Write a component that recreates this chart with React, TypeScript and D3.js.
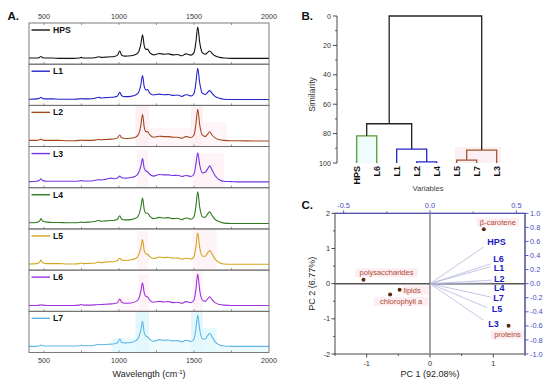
import React from "react";
import * as d3 from "d3";

// ---------- Panel A data ----------
const WN = [400, 450, 470, 480, 492, 520, 560, 600, 650, 700,
  735, 748, 760, 800, 840, 865, 880, 910, 950, 970,
  990, 1005, 1018, 1040, 1080, 1110, 1130, 1145, 1157, 1168,
  1180, 1190, 1205, 1230, 1270, 1300, 1330, 1360, 1390, 1420,
  1445, 1460, 1480, 1500, 1512, 1525, 1538, 1555, 1575, 1590,
  1605, 1620, 1640, 1670, 1700, 1750, 1800, 1900, 2000];

const HPS = [0.03, 0.03, 0.05, 0.08, 0.04, 0.03, 0.03, 0.02, 0.02, 0.02,
  0.03, 0.05, 0.03, 0.03, 0.04, 0.07, 0.05, 0.06, 0.07, 0.08,
  0.12, 0.25, 0.12, 0.09, 0.10, 0.14, 0.22, 0.45, 0.76, 0.42,
  0.30, 0.31, 0.20, 0.13, 0.17, 0.15, 0.16, 0.13, 0.14, 0.10,
  0.16, 0.15, 0.12, 0.20, 0.50, 1.0, 0.52, 0.20, 0.15, 0.20,
  0.25, 0.18, 0.10, 0.05, 0.03, 0.02, 0.02, 0.02, 0.02];
const L1 = [0.03, 0.04, 0.06, 0.09, 0.05, 0.04, 0.04, 0.03, 0.03, 0.03,
  0.04, 0.05, 0.04, 0.04, 0.06, 0.09, 0.07, 0.08, 0.09, 0.10,
  0.13, 0.25, 0.14, 0.11, 0.12, 0.16, 0.24, 0.46, 0.77, 0.43,
  0.32, 0.33, 0.22, 0.16, 0.19, 0.17, 0.18, 0.15, 0.16, 0.12,
  0.17, 0.16, 0.13, 0.21, 0.52, 1.0, 0.54, 0.22, 0.18, 0.24,
  0.30, 0.22, 0.12, 0.06, 0.03, 0.02, 0.02, 0.02, 0.02];
const L2 = [0.03, 0.03, 0.05, 0.07, 0.04, 0.03, 0.03, 0.03, 0.02, 0.02,
  0.03, 0.04, 0.03, 0.03, 0.04, 0.06, 0.05, 0.06, 0.07, 0.08,
  0.11, 0.20, 0.11, 0.09, 0.10, 0.13, 0.22, 0.48, 0.85, 0.45,
  0.30, 0.31, 0.20, 0.13, 0.16, 0.15, 0.15, 0.13, 0.13, 0.10,
  0.15, 0.14, 0.12, 0.20, 0.52, 1.0, 0.52, 0.20, 0.15, 0.22,
  0.30, 0.20, 0.11, 0.05, 0.03, 0.02, 0.02, 0.01, 0.01];
const L3 = [0.03, 0.04, 0.07, 0.12, 0.06, 0.04, 0.04, 0.04, 0.04, 0.04,
  0.05, 0.06, 0.05, 0.05, 0.07, 0.09, 0.08, 0.10, 0.14, 0.12,
  0.14, 0.20, 0.15, 0.14, 0.16, 0.20, 0.30, 0.50, 0.75, 0.45,
  0.36, 0.34, 0.26, 0.20, 0.25, 0.24, 0.24, 0.22, 0.23, 0.19,
  0.22, 0.21, 0.19, 0.27, 0.55, 0.93, 0.55, 0.30, 0.32, 0.42,
  0.52, 0.40, 0.22, 0.08, 0.04, 0.03, 0.02, 0.02, 0.02];
const L4 = [0.03, 0.04, 0.08, 0.16, 0.08, 0.05, 0.04, 0.04, 0.03, 0.03,
  0.04, 0.05, 0.04, 0.05, 0.07, 0.10, 0.08, 0.09, 0.10, 0.11,
  0.14, 0.25, 0.14, 0.12, 0.13, 0.17, 0.26, 0.50, 0.80, 0.45,
  0.33, 0.33, 0.24, 0.16, 0.20, 0.18, 0.19, 0.16, 0.17, 0.13,
  0.18, 0.17, 0.14, 0.22, 0.52, 1.0, 0.52, 0.22, 0.20, 0.30,
  0.37, 0.26, 0.14, 0.06, 0.02, 0.01, 0.01, 0.01, 0.01];
const L5 = [0.03, 0.04, 0.08, 0.15, 0.07, 0.04, 0.04, 0.04, 0.03, 0.03,
  0.04, 0.06, 0.04, 0.05, 0.06, 0.09, 0.07, 0.09, 0.10, 0.11,
  0.14, 0.21, 0.15, 0.14, 0.16, 0.20, 0.30, 0.52, 0.79, 0.45,
  0.34, 0.33, 0.26, 0.20, 0.25, 0.23, 0.24, 0.21, 0.22, 0.18,
  0.21, 0.20, 0.18, 0.26, 0.55, 1.0, 0.55, 0.28, 0.27, 0.37,
  0.45, 0.34, 0.18, 0.07, 0.03, 0.02, 0.02, 0.02, 0.02];
const L6 = [0.02, 0.02, 0.03, 0.04, 0.03, 0.02, 0.02, 0.02, 0.02, 0.02,
  0.03, 0.05, 0.03, 0.03, 0.04, 0.05, 0.05, 0.06, 0.07, 0.08,
  0.11, 0.22, 0.12, 0.09, 0.10, 0.14, 0.22, 0.45, 0.73, 0.42,
  0.30, 0.29, 0.19, 0.12, 0.15, 0.13, 0.14, 0.11, 0.12, 0.09,
  0.14, 0.13, 0.11, 0.19, 0.50, 1.0, 0.50, 0.19, 0.15, 0.22,
  0.29, 0.20, 0.11, 0.05, 0.03, 0.02, 0.02, 0.02, 0.02];
const L7 = [0.03, 0.03, 0.05, 0.07, 0.05, 0.04, 0.04, 0.04, 0.04, 0.04,
  0.05, 0.06, 0.05, 0.05, 0.07, 0.09, 0.08, 0.09, 0.10, 0.11,
  0.14, 0.26, 0.15, 0.14, 0.15, 0.20, 0.30, 0.52, 0.81, 0.46,
  0.35, 0.33, 0.25, 0.19, 0.24, 0.22, 0.23, 0.20, 0.21, 0.17,
  0.22, 0.21, 0.18, 0.26, 0.55, 1.0, 0.55, 0.27, 0.26, 0.36,
  0.44, 0.33, 0.18, 0.07, 0.04, 0.03, 0.03, 0.03, 0.03];

const SPEC_NAMES = ["HPS", "L1", "L2", "L3", "L4", "L5", "L6", "L7"];
const SPEC_VALUES = [HPS, L1, L2, L3, L4, L5, L6, L7];
const SPEC_COLORS = ["#111111", "#2323c9", "#a2481f", "#7434e6", "#2f7a1e", "#d3a51f", "#a133dc", "#5db6e6"];
const A_LABEL_TICKS = [500, 1000, 1500, 2000];
const A_MINOR_TICKS = [500, 750, 1000, 1250, 1500, 1750];

// light highlight boxes behind peaks: [panel, wn0, wn1, frac0, frac1, color]
const A_HIGHLIGHTS: [number, number, number, number, number, string][] = [
  [2, 1110, 1200, 0, 1, "#fdf0f5"], [2, 1480, 1560, 0, 1, "#fdf0f5"], [2, 1200, 1480, 0, 0.45, "#fef5f8"], [2, 1560, 1720, 0, 0.6, "#fef5f8"],
  [3, 1120, 1195, 0, 0.9, "#fef4f8"], [3, 1490, 1700, 0, 0.85, "#fef4f8"],
  [5, 1120, 1195, 0, 0.95, "#fef3f6"], [5, 1490, 1650, 0, 1, "#fef3f6"],
  [6, 1130, 1200, 0, 0.9, "#fef3f8"], [6, 1490, 1560, 0, 1, "#fef3f8"], [6, 980, 1110, 0, 0.35, "#fef6f9"],
  [7, 950, 1110, 0, 0.35, "#e6f9fc"], [7, 1110, 1200, 0, 1, "#e3f8fc"], [7, 1480, 1560, 0, 1, "#e3f8fc"],
  [7, 1560, 1650, 0, 0.6, "#e6f9fc"], [7, 1650, 2000, 0, 0.15, "#ecfafd"], [7, 1200, 1480, 0, 0.3, "#eefbfd"],
];

// ---------- Panel B data ----------
const LEAVES = ["HPS", "L6", "L1", "L2", "L4", "L5", "L7", "L3"];
const MERGE_A = ["HPS", "L2", "L1", "m0", "L5", "m4", "m3"];
const MERGE_B = ["L6", "L4", "m1", "m2", "L7", "L3", "m5"];
const MERGE_H = [81.5, 99.3, 90.5, 73.3, 98.0, 91.2, 0];
const MERGE_COLORS = ["#5e9c2e", "#2424c8", "#2424c8", "#222222", "#a3532e", "#a3532e", "#222222"];
const SIM_TICKS = [0, 20, 40, 60, 80, 100];
const SIM_MINOR = [10, 30, 50, 70, 90];

// ---------- Panel C data ----------
const SCORE_NAMES = ["β-carotene", "polysaccharides", "lipids", "chlorophyll a", "proteins"];
const SCORE_PC1 = [0.85, -1.05, -0.48, -0.63, 1.24];
const SCORE_PC2 = [1.55, 0.11, -0.17, -0.31, -1.2];
const LOAD_NAMES = ["HPS", "L6", "L1", "L2", "L4", "L7", "L5", "L3"];
const LOAD_X = [0.31, 0.35, 0.35, 0.36, 0.36, 0.35, 0.33, 0.31];
const LOAD_Y = [0.52, 0.28, 0.24, 0.05, 0.01, -0.19, -0.34, -0.52];
const PC1_TICKS = [-1, 0, 1];
const PC1_MINOR = [-1.5, -0.5, 0.5, 1.5];
const PC2_TICKS = [2, 1, 0, -1, -2];
const PC2_MINOR = [1.5, 0.5, -0.5, -1.5];
const TOP_TICKS = [-0.5, 0, 0.5];
const TOP_MINOR = [-0.25, 0.25];
const RIGHT_TICKS = [1.0, 0.8, 0.6, 0.4, 0.2, 0.0, -0.2, -0.4, -0.6, -0.8, -1.0];

// label layout (styling)
const SCORE_LABEL_DX = [14, 23, 4, 11, -1];
const SCORE_LABEL_DY = [-4.5, -4.5, 3, 9.5, 11.5];
const SCORE_LABEL_ANCHOR = ["middle", "middle", "start", "middle", "middle"];
const LOAD_LABEL_DX = [13, 8, 8.5, 7, 7, 8, 10, 10];
const LOAD_LABEL_DY = [-2.5, -2, 4, 2, 8.5, 4, 4.5, 6.5];

const FONT = "'Liberation Sans', Arial, Helvetica, sans-serif";

const fmtHyphen = (v: number, digits: number) => {
  const s = Math.abs(v) < 1e-9 ? (0).toFixed(digits) : v.toFixed(digits);
  return s;
};

export default function App() {
  // ---------- Panel A ----------
  const xA = d3.scaleLinear().domain([400, 2000]).range([29, 269]);
  const aTop = 23;
  const aBottom = 352.5;
  const ph = (aBottom - aTop) / 8;

  const panelA = SPEC_NAMES.map((name, i) => {
    const top = aTop + i * ph;
    const yS = d3.scaleLinear().domain([0, 1]).range([top + 36, top + 4]);
    const path = d3
      .line<number>()
      .x((_, j) => xA(WN[j]))
      .y((v) => yS(v))
      .curve(d3.curveMonotoneX)(SPEC_VALUES[i]);
    return { name, i, top, yS, path };
  });

  // ---------- Panel B ----------
  const xB = d3.scalePoint<string>().domain(LEAVES).range([356.7, 496.7]);
  const yB = d3.scaleLinear().domain([0, 100]).range([16, 163]);
  const nodes: Record<string, { x: number; h: number }> = {};
  LEAVES.forEach((l) => (nodes[l] = { x: xB(l) as number, h: 100 }));
  const dendroPaths = MERGE_A.map((a, i) => {
    const na = nodes[a];
    const nb = nodes[MERGE_B[i]];
    const h = MERGE_H[i];
    nodes["m" + i] = { x: (na.x + nb.x) / 2, h };
    const p = d3.path();
    p.moveTo(na.x, yB(na.h));
    p.lineTo(na.x, yB(h));
    p.lineTo(nb.x, yB(h));
    p.lineTo(nb.x, yB(nb.h));
    return { d: p.toString(), color: MERGE_COLORS[i] };
  });

  // ---------- Panel C ----------
  const cl = 335, cr = 525, ct = 213.3, cb = 354;
  const xC = d3.scaleLinear().domain([-1.5, 1.5]).range([cl, cr]);
  const yC = d3.scaleLinear().domain([-2, 2]).range([cb, ct]);
  const xL = d3.scaleLinear().domain([-0.55, 0.55]).range([cl, cr]);
  const yL = d3.scaleLinear().domain([-1, 1]).range([cb, ct]);
  const blue = "#4b4bc6";

  return (
    <svg
      width={550}
      height={386}
      style={{ position: "absolute", left: 0, top: 0, background: "#fff" }}
      fontFamily={FONT}
    >
      <rect x={0} y={0} width={550} height={386} fill="#fff" />

      {/* ===== Panel A ===== */}
      <text x={7.5} y={19.5} fontSize={11.5} fontWeight="bold" fill="#111">A.</text>
      {A_LABEL_TICKS.map((t) => (
        <text key={"at" + t} x={xA(t)} y={18.5} fontSize={7.2} textAnchor="middle" fill="#333">{t}</text>
      ))}
      {A_HIGHLIGHTS.map(([pi, w0, w1, f0, f1, c], k) => {
        const top = aTop + pi * ph;
        const y0 = top + ph - f0 * ph;
        const y1 = top + ph - f1 * ph;
        return <rect key={"hl" + k} x={xA(w0)} y={y1} width={xA(w1) - xA(w0)} height={y0 - y1} fill={c} />;
      })}
      {panelA.map((p) => (
        <g key={p.name}>
          <path d={p.path || ""} fill="none" stroke={SPEC_COLORS[p.i]} strokeWidth={1.1} strokeLinejoin="round" />
          <line x1={31.5} x2={50} y1={p.top + 7} y2={p.top + 7} stroke={SPEC_COLORS[p.i]} strokeWidth={1.4} />
          <text x={53} y={p.top + 10} fontSize={8.6} fontWeight="bold" fill="#111">{p.name}</text>
          {A_MINOR_TICKS.map((t) => (
            <line key={"bt" + t} x1={xA(t)} x2={xA(t)} y1={p.top + ph} y2={p.top + ph - 2} stroke="#666" strokeWidth={0.7} />
          ))}
          {p.i === 0 &&
            A_MINOR_TICKS.map((t) => (
              <line key={"tt" + t} x1={xA(t)} x2={xA(t)} y1={p.top} y2={p.top + 2} stroke="#666" strokeWidth={0.7} />
            ))}
          <rect x={xA(400)} y={p.top} width={xA(2000) - xA(400)} height={ph} fill="none" stroke="#6d6d6d" strokeWidth={0.9} />
        </g>
      ))}
      {A_LABEL_TICKS.map((t) => (
        <text key={"ab" + t} x={xA(t)} y={362.5} fontSize={7.2} textAnchor="middle" fill="#333">{t}</text>
      ))}
      <text x={xA(1200)} y={377} fontSize={9} textAnchor="middle" fill="#222">
        Wavelength (cm
        <tspan fontSize={6} dy={-3.5}>-1</tspan>
        <tspan dy={3.5}>)</tspan>
      </text>

      {/* ===== Panel B ===== */}
      <text x={301.5} y={19.5} fontSize={11.5} fontWeight="bold" fill="#111">B.</text>
      <rect x={355} y={yB(81.5) - 1} width={24} height={yB(100) - yB(81.5) + 1} fill="#effcfc" />
      <rect x={455} y={yB(91.2) - 3} width={46} height={yB(100) - yB(91.2) + 3} fill="#fdf0f5" />
      <line x1={337} x2={337} y1={yB(0)} y2={yB(100)} stroke="#333" strokeWidth={0.9} />
      {SIM_TICKS.map((t) => (
        <g key={"st" + t}>
          <line x1={333} x2={337} y1={yB(t)} y2={yB(t)} stroke="#333" strokeWidth={0.9} />
          <text x={331} y={yB(t) + 2.5} fontSize={7.2} textAnchor="end" fill="#333">{t}</text>
        </g>
      ))}
      {SIM_MINOR.map((t) => (
        <line key={"sm" + t} x1={335} x2={337} y1={yB(t)} y2={yB(t)} stroke="#333" strokeWidth={0.8} />
      ))}
      <text transform={`translate(314.5,${(yB(0) + yB(100)) / 2 + 5}) rotate(-90)`} fontSize={8.5} textAnchor="middle" fill="#333">Similarity</text>
      {dendroPaths.map((p, i) => (
        <path key={"dp" + i} d={p.d} fill="none" stroke={p.color} strokeWidth={1.3} />
      ))}
      {LEAVES.map((l) => (
        <text
          key={"lf" + l}
          transform={`translate(${(xB(l) as number) + 3.3},${166}) rotate(-90)`}
          fontSize={9}
          fontWeight="bold"
          textAnchor="end"
          fill="#111"
        >
          {l}
        </text>
      ))}
      <text x={428} y={191} fontSize={7.6} textAnchor="middle" fill="#444">Variables</text>

      {/* ===== Panel C ===== */}
      <text x={301.5} y={209} fontSize={11.5} fontWeight="bold" fill="#111">C.</text>
      {/* score labels highlight */}
      {SCORE_NAMES.map((n, i) => {
        const w = n.length * 4.05 + 2;
        const anchor = SCORE_LABEL_ANCHOR[i];
        const cx = xC(SCORE_PC1[i]) + SCORE_LABEL_DX[i];
        const x0 = anchor === "middle" ? cx - w / 2 : cx - 1;
        return <rect key={"sh" + i} x={x0} y={yC(SCORE_PC2[i]) + SCORE_LABEL_DY[i] - 7} width={w} height={9} fill="#fdeef4" />;
      })}
      <rect x={cl} y={ct} width={cr - cl} height={cb - ct} fill="none" stroke="#333" strokeWidth={0.9} />
      <line x1={cl} x2={cr} y1={ct} y2={ct} stroke={blue} strokeWidth={0.9} />
      <line x1={cr} x2={cr} y1={ct} y2={cb} stroke={blue} strokeWidth={0.9} />
      <line x1={xC(0)} x2={xC(0)} y1={ct} y2={cb} stroke="#9a9a9a" strokeWidth={1.8} />
      <line x1={cl} x2={cr} y1={yC(0)} y2={yC(0)} stroke="#555" strokeWidth={1.5} />
      {/* bottom axis */}
      {PC1_TICKS.map((t) => (
        <g key={"b" + t}>
          <line x1={xC(t)} x2={xC(t)} y1={cb} y2={cb + 3.5} stroke="#333" strokeWidth={0.9} />
          <text x={xC(t)} y={365.5} fontSize={7.4} textAnchor="middle" fill="#333">{t}</text>
        </g>
      ))}
      {PC1_MINOR.map((t) => (
        <line key={"bm" + t} x1={xC(t)} x2={xC(t)} y1={cb} y2={cb + 2} stroke="#333" strokeWidth={0.8} />
      ))}
      <text x={430} y={377} fontSize={9} textAnchor="middle" fill="#222">PC 1 (92.08%)</text>
      {/* left axis */}
      {PC2_TICKS.map((t) => (
        <g key={"l" + t}>
          <line x1={cl - 3.5} x2={cl} y1={yC(t)} y2={yC(t)} stroke="#333" strokeWidth={0.9} />
          <text x={cl - 5} y={yC(t) + 2.6} fontSize={7.4} textAnchor="end" fill="#333">{t}</text>
        </g>
      ))}
      {PC2_MINOR.map((t) => (
        <line key={"lm" + t} x1={cl - 2} x2={cl} y1={yC(t)} y2={yC(t)} stroke="#333" strokeWidth={0.8} />
      ))}
      <text transform={`translate(314.5,${yC(0)}) rotate(-90)`} fontSize={9} textAnchor="middle" fill="#222">PC 2 (6.77%)</text>
      {/* top axis */}
      {TOP_TICKS.map((t) => (
        <g key={"t" + t}>
          <line x1={xL(t)} x2={xL(t)} y1={ct - 3} y2={ct} stroke={blue} strokeWidth={0.9} />
          <text x={xL(t)} y={208} fontSize={7.4} textAnchor="middle" fill={blue}>{fmtHyphen(t, 1)}</text>
        </g>
      ))}
      {TOP_MINOR.map((t) => (
        <line key={"tm" + t} x1={xL(t)} x2={xL(t)} y1={ct - 2} y2={ct} stroke={blue} strokeWidth={0.8} />
      ))}
      {/* right axis */}
      {RIGHT_TICKS.map((t) => (
        <g key={"r" + t}>
          <line x1={cr} x2={cr + 3.5} y1={yL(t)} y2={yL(t)} stroke={blue} strokeWidth={0.9} />
          <text x={cr + 5} y={yL(t) + 2.6} fontSize={7.4} textAnchor="start" fill={blue}>{fmtHyphen(t, 1)}</text>
        </g>
      ))}
      {/* loadings */}
      {LOAD_NAMES.map((n, i) => (
        <line key={"ll" + n} x1={xL(0)} y1={yL(0)} x2={xL(LOAD_X[i])} y2={yL(LOAD_Y[i])} stroke="#b3b8de" strokeWidth={0.8} />
      ))}
      {LOAD_NAMES.map((n, i) => (
        <text
          key={"lt" + n}
          x={xL(LOAD_X[i]) + LOAD_LABEL_DX[i]}
          y={yL(LOAD_Y[i]) + LOAD_LABEL_DY[i]}
          fontSize={9}
          fontWeight="bold"
          textAnchor="middle"
          fill="#1c1cc4"
        >
          {n}
        </text>
      ))}
      {/* scores */}
      {SCORE_NAMES.map((n, i) => (
        <g key={"sc" + i}>
          <circle cx={xC(SCORE_PC1[i])} cy={yC(SCORE_PC2[i])} r={2} fill="#5a2a10" />
          <text
            x={xC(SCORE_PC1[i]) + SCORE_LABEL_DX[i]}
            y={yC(SCORE_PC2[i]) + SCORE_LABEL_DY[i]}
            fontSize={7.5}
            textAnchor={SCORE_LABEL_ANCHOR[i] as any}
            fill="#b24a2c"
          >
            {n}
          </text>
        </g>
      ))}
    </svg>
  );
}
